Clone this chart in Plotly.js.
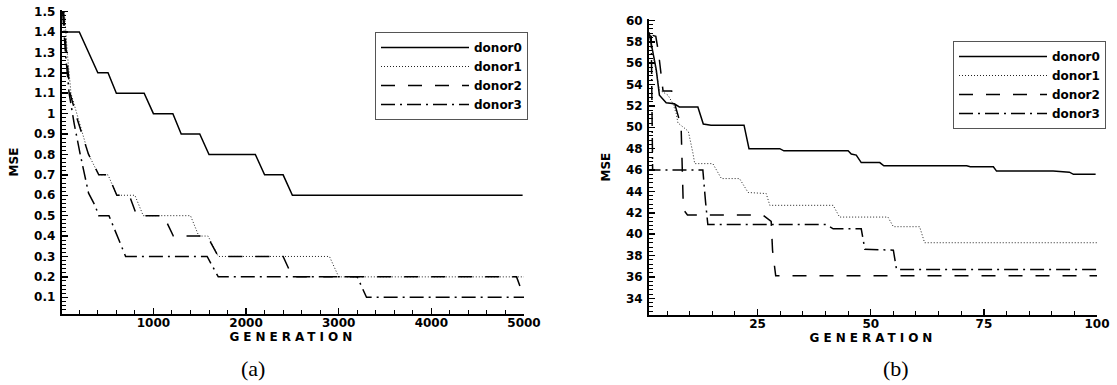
<!DOCTYPE html>
<html>
<head>
<meta charset="utf-8">
<script src="https://cdn.plot.ly/plotly-3.0.1.min.js"></script>
<style>
html, body { margin: 0; padding: 0; background: #fff; }
#chart { width: 1117px; height: 385px; }
.xtitle, .x2title { letter-spacing: 4px; }
</style>
</head>
<body>
<div id="chart"></div>
<script>
// ---- Panel (a): generations 0..5000 ----
const genA0 = [0, 200, 400, 510, 600, 900, 1000, 1210, 1300, 1500, 1600, 2100, 2200, 2400, 2500, 4985];
const mseA0 = [1.4, 1.4, 1.2, 1.2, 1.1, 1.1, 1.0, 1.0, 0.9, 0.9, 0.8, 0.8, 0.7, 0.7, 0.6, 0.6];

const genA1 = [40, 70, 110, 190, 260, 300, 410, 510, 605, 800, 890, 1400, 1490, 1590, 1700, 2900, 3000, 5000];
const mseA1 = [1.5, 1.3, 1.1, 0.97, 0.87, 0.8, 0.7, 0.7, 0.6, 0.6, 0.5, 0.5, 0.4, 0.4, 0.3, 0.3, 0.2, 0.2];

const genA2 = [30, 60, 100, 180, 250, 300, 410, 510, 605, 740, 820, 1110, 1215, 1580, 1700, 2400, 2500, 4920, 5000];
const mseA2 = [1.5, 1.3, 1.1, 0.97, 0.87, 0.8, 0.7, 0.7, 0.6, 0.6, 0.5, 0.5, 0.4, 0.4, 0.3, 0.3, 0.2, 0.2, 0.1];

const genA3 = [20, 50, 90, 145, 210, 300, 370, 410, 520, 700, 1580, 1700, 3200, 3300, 5000];
const mseA3 = [1.5, 1.3, 1.1, 0.95, 0.8, 0.61, 0.55, 0.5, 0.5, 0.3, 0.3, 0.2, 0.2, 0.1, 0.1];

// ---- Panel (b): generations 1..100 ----
const genB0 = [1, 2.6, 3.3, 4.8, 6.6, 7.7, 11.8, 13.0, 14.7, 22.0, 23.1, 29.9, 30.8, 45.0, 45.7, 46.8, 47.9, 52.0, 52.9, 71.2, 72.0, 77.1, 77.8, 90.3, 93.9, 94.8, 99.7];
const mseB0 = [58.9, 55.4, 53.0, 52.3, 52.2, 51.9, 51.9, 50.3, 50.2, 50.2, 48.0, 48.0, 47.8, 47.8, 47.5, 47.4, 46.7, 46.7, 46.4, 46.4, 46.3, 46.3, 45.9, 45.9, 45.8, 45.6, 45.6];

const genB1 = [1.2, 2.0, 3.3, 5.2, 6.3, 7.0, 7.4, 9.2, 9.7, 10.7, 11.1, 15.1, 17.0, 21.0, 22.9, 26.9, 27.7, 41.7, 43.1, 53.8, 55.0, 60.8, 61.9, 100];
const mseB1 = [58.5, 56.5, 53.5, 53.0, 52.2, 51.3, 50.4, 49.8, 49.6, 47.6, 46.6, 46.6, 45.2, 45.2, 43.9, 43.8, 42.7, 42.7, 41.6, 41.6, 40.7, 40.7, 39.2, 39.2];

const genB2 = [1.8, 2.5, 3.1, 3.7, 4.1, 6.0, 6.6, 7.5, 8.1, 8.6, 9.5, 26.1, 28.0, 28.3, 29.0, 100];
const mseB2 = [58.6, 58.5, 57.0, 55.0, 53.4, 53.4, 52.3, 51.0, 50.0, 42.3, 41.8, 41.8, 41.2, 38.5, 36.1, 36.1];

const genB3 = [1, 1.5, 1.8, 12.9, 13.5, 14.0, 27.7, 40.2, 41.7, 47.9, 48.7, 55.0, 55.7, 100];
const mseB3 = [58.6, 58.5, 46.0, 46.0, 43.0, 40.9, 40.9, 40.9, 40.5, 40.5, 38.6, 38.5, 36.7, 36.7];

const seriesNames = ['donor0', 'donor1', 'donor2', 'donor3'];
const ticksA_x = [1000, 2000, 3000, 4000, 5000];
const ticksA_y = [0.1, 0.2, 0.3, 0.4, 0.5, 0.6, 0.7, 0.8, 0.9, 1, 1.1, 1.2, 1.3, 1.4, 1.5];
const ticksB_x = [25, 50, 75, 100];
const ticksB_y = [34, 36, 38, 40, 42, 44, 46, 48, 50, 52, 54, 56, 58, 60];

const lineStyles = [
  {color: '#000', width: 1.5, dash: 'solid'},
  {color: '#222', width: 1, dash: '1px,2px'},
  {color: '#000', width: 1.5, dash: '14px,13px'},
  {color: '#000', width: 1.5, dash: '14px,5px,2px,5px'}
];

const dataA = [[genA0, mseA0], [genA1, mseA1], [genA2, mseA2], [genA3, mseA3]];
const dataB = [[genB0, mseB0], [genB1, mseB1], [genB2, mseB2], [genB3, mseB3]];

const traces = [];
dataA.forEach((d, i) => traces.push({
  type: 'scatter', mode: 'lines', x: d[0], y: d[1], name: seriesNames[i],
  line: lineStyles[i], xaxis: 'x', yaxis: 'y', legend: 'legend'
}));
dataB.forEach((d, i) => traces.push({
  type: 'scatter', mode: 'lines', x: d[0], y: d[1], name: seriesNames[i],
  line: lineStyles[i], xaxis: 'x2', yaxis: 'y2', legend: 'legend2'
}));

const tickFont = {family: 'DejaVu Sans', size: 12, color: '#000', weight: 'bold'};
const titleFont = {family: 'DejaVu Sans', size: 12, color: '#000', weight: 'bold'};

function axisBase() {
  return {
    showline: true, linewidth: 2, linecolor: '#000', mirror: false,
    showgrid: false, zeroline: false,
    ticks: 'inside', ticklen: 6, tickwidth: 1.5, tickcolor: '#000',
    tickfont: tickFont, tickmode: 'array', fixedrange: true
  };
}

const legendBase = {
  xanchor: 'left', yanchor: 'top',
  bgcolor: '#fff', bordercolor: '#555', borderwidth: 1,
  font: {family: 'DejaVu Sans', size: 12, color: '#000', weight: 'bold'},
  itemwidth: 88, tracegroupgap: 0
};

const layout = {
  width: 1117, height: 385,
  margin: {l: 0, r: 0, t: 0, b: 0},
  paper_bgcolor: '#fff', plot_bgcolor: '#fff',
  showlegend: true,
  xaxis: Object.assign(axisBase(), {
    domain: [61.7 / 1117, 524 / 1117], range: [10, 5000], tickvals: ticksA_x,
    minor: {ticks: 'inside', ticklen: 4, tickwidth: 1, tickcolor: '#000', dtick: 200, tick0: 0},
    title: {text: 'GENERATION', font: titleFont, standoff: 0},
    ticklabelstandoff: -3,
    anchor: 'y'
  }),
  yaxis: Object.assign(axisBase(), {
    domain: [1 - 314 / 385, 1 - 10 / 385], range: [0.018, 1.508], tickvals: ticksA_y,
    minor: {ticks: 'inside', ticklen: 4, tickwidth: 1, tickcolor: '#000', dtick: 0.02, tick0: 0},
    title: {text: 'MSE', font: titleFont, standoff: 13},
    ticklabelstandoff: 2,
    anchor: 'x'
  }),
  xaxis2: Object.assign(axisBase(), {
    domain: [649 / 1117, 1097 / 1117], range: [1, 100], tickvals: ticksB_x,
    minor: {ticks: 'inside', ticklen: 4, tickwidth: 1, tickcolor: '#000', dtick: 5, tick0: 0},
    title: {text: 'GENERATION', font: titleFont, standoff: 0},
    ticklabelstandoff: -3,
    anchor: 'y2'
  }),
  yaxis2: Object.assign(axisBase(), {
    domain: [1 - 315 / 385, 1 - 19.3 / 385], range: [32.44, 60.1], tickvals: ticksB_y,
    minor: {ticks: 'inside', ticklen: 4, tickwidth: 1, tickcolor: '#000', dtick: 0.4, tick0: 0},
    title: {text: 'MSE', font: titleFont, standoff: 13},
    ticklabelstandoff: 2,
    anchor: 'x2'
  }),
  legend: Object.assign({}, legendBase, {x: 375 / 1117, y: 1 - 32 / 385}),
  legend2: Object.assign({}, legendBase, {x: 953 / 1117, y: 1 - 41 / 385}),
  annotations: [
    {text: '(a)', xref: 'paper', yref: 'paper', x: 253 / 1117, y: 1 - 368 / 385,
     xanchor: 'center', yanchor: 'middle', showarrow: false,
     font: {family: 'Liberation Serif', size: 22, color: '#000'}},
    {text: '(b)', xref: 'paper', yref: 'paper', x: 896 / 1117, y: 1 - 368 / 385,
     xanchor: 'center', yanchor: 'middle', showarrow: false,
     font: {family: 'Liberation Serif', size: 22, color: '#000'}}
  ]
};

Plotly.newPlot('chart', traces, layout, {displayModeBar: false, staticPlot: true});
</script>
</body>
</html>
